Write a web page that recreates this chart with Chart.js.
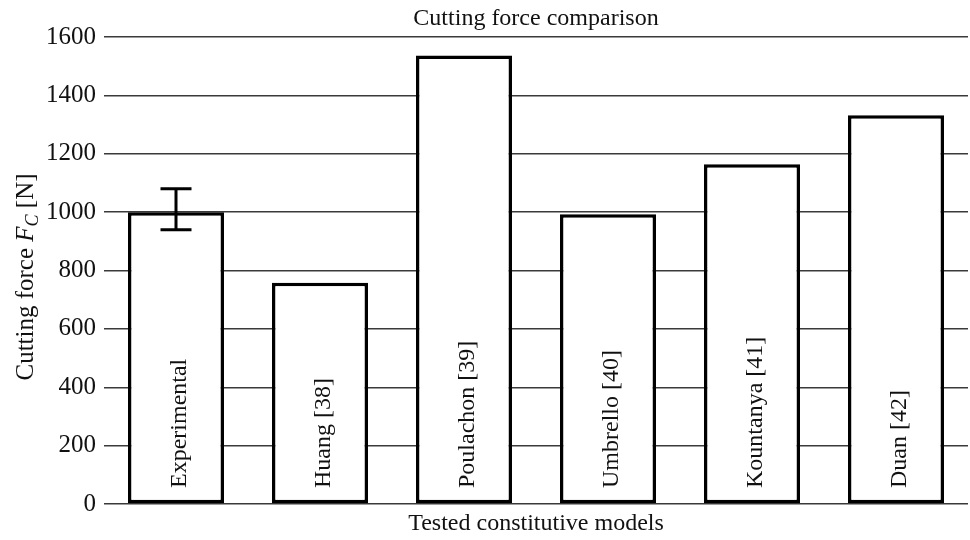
<!DOCTYPE html>
<html>
<head>
<meta charset="utf-8">
<script src="https://cdn.jsdelivr.net/npm/chart.js@4/dist/chart.umd.min.js"></script>
<style>
html,body{margin:0;padding:0;background:#fff;}
#wrap{width:970px;height:540px;position:relative;}
</style>
</head>
<body>
<div id="wrap"><canvas id="c" width="970" height="540"></canvas></div>
<script>
const categories = ["Experimental", "Huang [38]", "Poulachon [39]", "Umbrello [40]", "Kountanya [41]", "Duan [42]"];
const cuttingForce = [1000, 758, 1537, 993, 1164, 1332];
const errorLow = [940, null, null, null, null, null];
const errorHigh = [1080, null, null, null, null, null];
const yTicks = [0, 200, 400, 600, 800, 1000, 1200, 1400, 1600];
const chartTitle = "Cutting force comparison";
const xTitle = "Tested constitutive models";
const yTitleParts = [["Cutting force ", "normal", 0], ["F", "italic", 0], ["C", "italic", 1], [" [N]", "normal", 0]];

const SERIF = '"Liberation Serif", "Times New Roman", serif';

const decorPlugin = {
  id: 'decor',
  afterDatasetsDraw(chart) {
    const ctx = chart.ctx;
    const xs = chart.scales.x, ys = chart.scales.y;
    const area = chart.chartArea;
    const midX = (area.left + area.right) / 2;
    // error bars
    ctx.save();
    ctx.strokeStyle = '#000';
    ctx.lineWidth = 3;
    for (let i = 0; i < categories.length; i++) {
      if (errorLow[i] == null) continue;
      const x = xs.getPixelForValue(i);
      const yl = ys.getPixelForValue(errorLow[i]);
      const yh = ys.getPixelForValue(errorHigh[i]);
      ctx.beginPath();
      ctx.moveTo(x, yl); ctx.lineTo(x, yh);
      ctx.moveTo(x - 15.5, yh); ctx.lineTo(x + 15.5, yh);
      ctx.moveTo(x - 15.5, yl); ctx.lineTo(x + 15.5, yl);
      ctx.stroke();
    }
    ctx.restore();
    // category labels inside bars
    ctx.save();
    ctx.fillStyle = '#111';
    ctx.font = '24px ' + SERIF;
    ctx.textAlign = 'left';
    ctx.textBaseline = 'alphabetic';
    for (let i = 0; i < categories.length; i++) {
      const x = xs.getPixelForValue(i);
      ctx.save();
      ctx.translate(x + 10, ys.getPixelForValue(0) - 16);
      ctx.rotate(-Math.PI / 2);
      ctx.fillText(categories[i], 0, 0);
      ctx.restore();
    }
    ctx.restore();
    // chart title
    ctx.save();
    ctx.fillStyle = '#111';
    ctx.font = '24px ' + SERIF;
    ctx.textAlign = 'center';
    ctx.textBaseline = 'middle';
    ctx.fillText(chartTitle, midX, 19);
    // x axis title
    ctx.fillText(xTitle, midX, 524);
    ctx.restore();
    // y axis title with italic F and subscript C
    ctx.save();
    ctx.fillStyle = '#111';
    const parts = yTitleParts.map(p => {
      const font = (p[1] === 'italic' ? 'italic ' : '') + (p[2] ? '18px ' : '25px ') + SERIF;
      ctx.font = font;
      return {text: p[0], font, sub: p[2], w: ctx.measureText(p[0]).width};
    });
    const total = parts.reduce((s, p) => s + p.w, 0);
    ctx.translate(33, 277);
    ctx.rotate(-Math.PI / 2);
    ctx.textBaseline = 'alphabetic';
    ctx.textAlign = 'left';
    let cx = -total / 2;
    for (const p of parts) {
      ctx.font = p.font;
      ctx.fillText(p.text, cx, p.sub ? 5 : 0);
      cx += p.w;
    }
    ctx.restore();
  }
};

new Chart(document.getElementById('c'), {
  type: 'bar',
  data: {
    labels: categories,
    datasets: [{
      data: cuttingForce,
      backgroundColor: '#ffffff',
      borderColor: '#000000',
      borderWidth: 3.5,
      borderSkipped: false,
      barPercentage: 0.667,
      categoryPercentage: 1.0
    }]
  },
  options: {
    responsive: false,
    animation: false,
    devicePixelRatio: 1,
    layout: {padding: {top: 37, right: 2, bottom: 0, left: 0}},
    plugins: {
      legend: {display: false},
      tooltip: {enabled: false},
      title: {display: false}
    },
    scales: {
      x: {
        ticks: {display: false},
        grid: {display: false},
        border: {display: false},
        afterFit(scale) { scale.height = 36; }
      },
      y: {
        min: 0,
        max: 1600,
        afterBuildTicks(scale) { scale.ticks = yTicks.map(v => ({value: v})); },
        ticks: {
          color: '#111',
          padding: 8,
          font: {family: SERIF, size: 25},
          callback: (v) => String(v)
        },
        grid: {color: '#3a3a3a', lineWidth: 1.4, drawTicks: false},
        border: {display: false},
        afterFit(scale) { scale.width = 104; }
      }
    }
  },
  plugins: [decorPlugin]
});
</script>
</body>
</html>
